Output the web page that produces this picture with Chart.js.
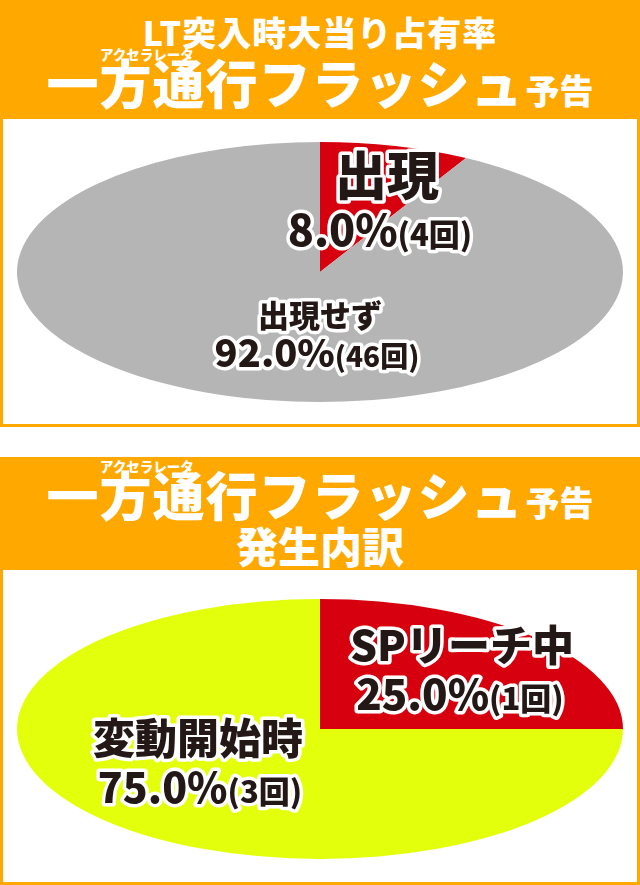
<!DOCTYPE html>
<html lang="ja">
<head>
<meta charset="utf-8">
<title>一方通行フラッシュ予告</title>
<script src="https://cdn.jsdelivr.net/npm/chart.js@4/dist/chart.umd.min.js"></script>
<style>
  html, body { margin: 0; padding: 0; background: #fff; }
  body {
    width: 640px; height: 885px; position: relative; overflow: hidden;
    font-family: "Noto Sans CJK JP", "Noto Sans", sans-serif; font-weight: 900;
  }
  .head { position: absolute; left: 0; width: 640px; background: #FFA800; }
  .box {
    position: absolute; left: 0; width: 634px; background: #fff;
    border: 3px solid #FFA800; border-top: 0;
  }
  .line {
    position: absolute; left: 0; width: 640px; text-align: center;
    color: #fff; white-space: nowrap; line-height: 1;
  }
  .ruby { position: absolute; color: #fff; font-size: 13.5px; line-height: 1; white-space: nowrap; }
  .title { font-size: 52px; letter-spacing: 1px; }
  .title small { font-size: 34px; letter-spacing: 0; margin-left: 2px; }
  .wrap { position: absolute; left: 0; width: 640px; }
</style>
</head>
<body>

<div class="head" style="top:0; height:119px;"></div>
<div class="line" style="top:15px; font-size:34px; letter-spacing:1px;">LT突入時大当り占有率</div>
<div class="ruby" style="top:48px; left:100px;">アクセラレータ</div>
<div class="line title" style="top:56px;">一方通行フラッシュ<small>予告</small></div>
<div class="box" style="top:119px; height:305px;"></div>
<div class="wrap" style="top:119px; height:306px;"><canvas id="appearChart" width="640" height="306"></canvas></div>

<div class="head" style="top:457px; height:113px;"></div>
<div class="ruby" style="top:460px; left:100px;">アクセラレータ</div>
<div class="line title" style="top:468px;">一方通行フラッシュ<small>予告</small></div>
<div class="line" style="top:524px; font-size:42px;">発生内訳</div>
<div class="box" style="top:570px; height:312px;"></div>
<div class="wrap" style="top:570px; height:318px;"><canvas id="triggerChart" width="640" height="318"></canvas></div>

<script>
// --- data -------------------------------------------------------------
const APPEAR_LABELS = ['出現', '出現せず'];
const APPEAR_COUNTS = [4, 46];

const TRIGGER_LABELS = ['SPリーチ中', '変動開始時'];
const TRIGGER_COUNTS = [1, 3];

// --- style ------------------------------------------------------------
const PALETTE = {
  red: '#D7000F',
  gray: '#B5B5B6',
  yellow: '#E3FF0B',
  text: '#231815',
  outline: '#FFFFFF'
};
const FONT = '"Noto Sans CJK JP", "Noto Sans", sans-serif';

// Label anchors as fractions of the ellipse radii (x of rx, y of ry),
// plus font sizes for the name line and the "xx.x%(n回)" line.
const APPEAR_LAYOUT = [
  { name: [0.221, -0.738], nameSize: 52, value: [0.198, -0.323], valueSize: 43, countSize: 31 },
  { name: [0.0, 0.338], nameSize: 31, value: [-0.01, 0.623], valueSize: 38, countSize: 28 }
];
const TRIGGER_LAYOUT = [
  { name: [0.469, -0.646], nameSize: 42, value: [0.462, -0.269], valueSize: 42, countSize: 31 },
  { name: [-0.403, 0.069], nameSize: 42, value: [-0.396, 0.454], valueSize: 41, countSize: 31 }
];

// Stretch the round pie into an ellipse that fills the chart area width.
const ellipsePlugin = {
  id: 'ellipse',
  beforeDatasetsDraw(chart) {
    const { ctx, chartArea } = chart;
    const arc = chart.getDatasetMeta(0).data[0];
    const sx = (chartArea.width / 2) / arc.outerRadius;
    ctx.save();
    ctx.translate(arc.x, arc.y);
    ctx.scale(sx, 1);
    ctx.translate(-arc.x, -arc.y);
  },
  afterDatasetsDraw(chart) {
    chart.ctx.restore();
  }
};

// Draw a row of text runs (different sizes, shared baseline) centred on x,
// white outline underneath, dark fill on top.
function drawOutlined(ctx, runs, x, midY) {
  const big = Math.max(...runs.map(r => r.size));
  const baseY = midY + big * 0.37;
  let total = 0;
  runs.forEach(r => {
    ctx.font = `900 ${r.size}px ${FONT}`;
    r.w = ctx.measureText(r.text).width;
    total += r.w;
  });
  ctx.save();
  ctx.textAlign = 'left';
  ctx.textBaseline = 'alphabetic';
  ctx.lineJoin = 'round';
  ctx.lineWidth = 7;
  ctx.strokeStyle = PALETTE.outline;
  ctx.fillStyle = PALETTE.text;
  ['stroke', 'fill'].forEach(pass => {
    let cx = x - total / 2;
    runs.forEach(r => {
      ctx.font = `900 ${r.size}px ${FONT}`;
      if (pass === 'stroke') ctx.strokeText(r.text, cx, baseY);
      else ctx.fillText(r.text, cx, baseY);
      cx += r.w;
    });
  });
  ctx.restore();
}

const labelPlugin = {
  id: 'sliceLabels',
  afterDraw(chart, args, opts) {
    const { ctx, chartArea } = chart;
    const arc = chart.getDatasetMeta(0).data[0];
    const rx = chartArea.width / 2;
    const ry = arc.outerRadius;
    const counts = chart.data.datasets[0].data;
    const total = counts.reduce((a, b) => a + b, 0);
    chart.data.labels.forEach((label, i) => {
      const pos = opts.layout[i];
      drawOutlined(ctx, [{ text: label, size: pos.nameSize }],
        arc.x + pos.name[0] * rx, arc.y + pos.name[1] * ry);
      const pct = ((counts[i] / total) * 100).toFixed(1);
      drawOutlined(ctx, [
        { text: `${pct}%`, size: pos.valueSize },
        { text: `(${counts[i]}回)`, size: pos.countSize }
      ], arc.x + pos.value[0] * rx, arc.y + pos.value[1] * ry);
    });
  }
};

function renderEllipsePie(canvas, labels, counts, colors, layout, padY) {
  return new Chart(canvas, {
    type: 'pie',
    data: {
      labels,
      datasets: [{ data: counts, backgroundColor: colors, borderWidth: 0 }]
    },
    options: {
      responsive: false,
      animation: false,
      layout: { padding: { top: padY, bottom: padY, left: 17, right: 17 } },
      plugins: {
        legend: { display: false },
        tooltip: { enabled: false },
        sliceLabels: { layout }
      }
    },
    plugins: [ellipsePlugin, labelPlugin]
  });
}

renderEllipsePie(document.getElementById('appearChart'),
  APPEAR_LABELS, APPEAR_COUNTS, [PALETTE.red, PALETTE.gray], APPEAR_LAYOUT, 23);
renderEllipsePie(document.getElementById('triggerChart'),
  TRIGGER_LABELS, TRIGGER_COUNTS, [PALETTE.red, PALETTE.yellow], TRIGGER_LAYOUT, 29);
</script>
</body>
</html>
